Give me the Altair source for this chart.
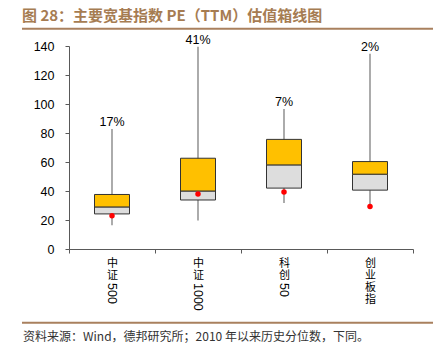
import altair as alt
import pandas as pd

cats = ["中证500", "中证1000", "科创50", "创业板指"]
nums = ["500", "1000", "50", ""]
vmax = [82.7, 139.5, 96.6, 134.7]
q3 = [37.6, 62.6, 75.6, 60.3]
med = [29.0, 40.0, 58.0, 51.6]
q1 = [24.2, 33.8, 42.0, 40.6]
vmin = [16.3, 19.6, 31.7, 29.0]
cur = [23.0, 37.9, 39.3, 29.3]
pct = ["17%", "41%", "7%", "2%"]

title_text = "图 28：主要宽基指数 PE（TTM）估值箱线图"
foot_text = "资料来源：Wind，德邦研究所；2010 年以来历史分位数，下同。"
yticks = [0, 20, 40, 60, 80, 100, 120, 140]

df = pd.DataFrame({"cat": cats, "num": nums, "max": vmax, "q3": q3, "med": med,
                   "q1": q1, "min": vmin, "cur": cur, "pct": pct})

W, H = 344, 203
AX = "#595959"

x = alt.X("cat:N", sort=cats, title=None,
          scale=alt.Scale(paddingInner=0, paddingOuter=0),
          axis=alt.Axis(labelExpr="split(replace(datum.label, regexp('[0-9]', 'g'), ''), '')",
                        tickBand="extent", tickSize=4, labelAngle=0, labelOverlap=False,
                        labelFont="Noto Sans CJK SC", labelFontSize=11, labelLineHeight=12.3,
                        labelPadding=4, labelColor="#000000", domainColor=AX, tickColor=AX,
                        labelBaseline="top"))
yscale = alt.Scale(domain=[0, 140], nice=False)
yaxis = alt.Axis(values=yticks, title=None, grid=False, tickSize=4, labelPadding=11,
                 labelFont="Liberation Sans", labelFontSize=12.5, labelColor="#000000",
                 domainColor=AX, tickColor=AX, labelOverlap=False)


def Y(field):
    return alt.Y(field, scale=yscale, axis=yaxis)


base = alt.Chart(df)

whisk = base.mark_rule(color="#7f7f7f", strokeWidth=1.3).encode(
    x=x, y=Y("min:Q"), y2="max:Q")
lower = base.mark_bar(size=35, color="#DDDDDD", stroke="#333333", strokeWidth=1).encode(
    x=x, y=Y("q1:Q"), y2="med:Q")
upper = base.mark_bar(size=35, color="#FFC000", stroke="#333333", strokeWidth=1).encode(
    x=x, y=Y("med:Q"), y2="q3:Q")
dots = base.mark_circle(color="#FF0000", size=30, opacity=1).encode(x=x, y=Y("cur:Q"))
labels = base.mark_text(dy=-7, fontSize=12.5, font="Liberation Sans", color="#000000").encode(
    x=x, y=Y("max:Q"), text="pct:N")
digits = base.mark_text(angle=90, align="left", baseline="middle", fontSize=12.5,
                        font="Liberation Sans", color="#000000").encode(
    x=x, y=alt.value(H + 34), text="num:N")

tdf = alt.Chart(pd.DataFrame({"t": [title_text]}))
title = tdf.mark_text(align="left", baseline="middle", fontSize=15, fontWeight="bold",
                      font="Noto Sans CJK SC", color="#A67C52").encode(
    x=alt.value(-47), y=alt.value(-30), text="t:N")
tline = tdf.mark_rule(color="#A9805E", strokeWidth=2).encode(
    x=alt.value(-47), x2=alt.value(364), y=alt.value(-17.3))
fdf = alt.Chart(pd.DataFrame({"t": [foot_text]}))
fline = fdf.mark_rule(color="#A9805E", strokeWidth=2).encode(
    x=alt.value(-47), x2=alt.value(364), y=alt.value(H + 73.7))
foot = fdf.mark_text(align="left", baseline="middle", fontSize=12,
                     font="Noto Sans CJK SC", color="#333333").encode(
    x=alt.value(-46), y=alt.value(H + 87.7), text="t:N")

chart = alt.layer(whisk, lower, upper, dots, labels, digits, title, tline, fline, foot).properties(
    width=W, height=H,
    autosize=alt.AutoSizeParams(type="none"),
    padding={"left": 61, "top": 38, "right": 23, "bottom": 95},
).configure_view(stroke=None)

chart.save("out.html", embed_options={"renderer": "svg", "actions": False})
